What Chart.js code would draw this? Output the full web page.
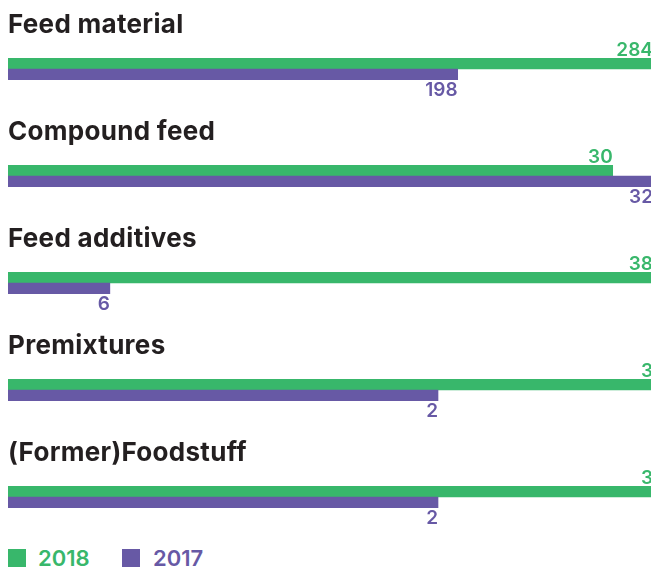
<!DOCTYPE html>
<html>
<head>
<meta charset="utf-8">
<script src="https://cdn.jsdelivr.net/npm/chart.js@4/dist/chart.umd.min.js"></script>
<style>
  html, body { margin: 0; padding: 0; background: #fff; width: 651px; height: 569px; overflow: hidden; }
  #wrap { position: relative; width: 653px; height: 569px; }
  .grp { position: absolute; left: 0; width: 653px; height: 107px; }
  .grp canvas { position: absolute; left: 0; top: 0; }
  .ttl { position: absolute; left: 8px; top: 10.5px; font: 700 26px Inter, sans-serif; line-height: 1; color: #231f20; white-space: nowrap; letter-spacing: 0.3px; }
  .leg { position: absolute; top: 547px; font: 600 22px Inter, sans-serif; line-height: 1; white-space: nowrap; }
  .sw { position: absolute; width: 18px; height: 18px; top: 549px; }
</style>
</head>
<body>
<div id="wrap"></div>
<script>
// ---- data ----
const categories = ['Feed material', 'Compound feed', 'Feed additives', 'Premixtures', '(Former)Foodstuff'];
const seriesNames = ['2018', '2017'];
const values2018 = [284, 30, 38, 3, 3];
const values2017 = [198, 32, 6, 2, 2];
const seriesColors = ['#38b76b', '#6759a5'];

const wrap = document.getElementById('wrap');

const valueLabels = {
  id: 'valueLabels',
  afterDatasetsDraw(chart) {
    const ctx = chart.ctx;
    const meta = chart.getDatasetMeta(0);
    const data = chart.data.datasets[0].data;
    ctx.save();
    ctx.font = '600 19px Inter, sans-serif';
    ctx.textAlign = 'right';
    ctx.textBaseline = 'alphabetic';
    meta.data.forEach((bar, i) => {
      const top = bar.y - bar.height / 2;
      const bottom = bar.y + bar.height / 2;
      ctx.fillStyle = seriesColors[i];
      if (i === 0) ctx.fillText(String(data[i]), bar.x, top - 2);
      else ctx.fillText(String(data[i]), bar.x, bottom + 16);
    });
    ctx.restore();
  }
};

categories.forEach((cat, g) => {
  const div = document.createElement('div');
  div.className = 'grp';
  div.style.top = (g * 107) + 'px';
  const t = document.createElement('div');
  t.className = 'ttl';
  t.textContent = cat;
  const cv = document.createElement('canvas');
  cv.width = 653; cv.height = 107;
  cv.style.width = '653px'; cv.style.height = '107px';
  div.appendChild(cv);
  div.appendChild(t);
  wrap.appendChild(div);

  const vals = [values2018[g], values2017[g]];
  new Chart(cv.getContext('2d'), {
    type: 'bar',
    data: {
      labels: seriesNames,
      datasets: [{
        data: vals,
        backgroundColor: seriesColors,
        borderWidth: 0,
        barPercentage: 1,
        categoryPercentage: 1
      }]
    },
    options: {
      indexAxis: 'y',
      responsive: false,
      animation: false,
      devicePixelRatio: 1,
      layout: { padding: { left: 8, right: 0, top: 58, bottom: 27 } },
      scales: {
        x: { display: false, min: 0, max: Math.max(...vals) },
        y: { display: false }
      },
      plugins: { legend: { display: false }, tooltip: { enabled: false }, title: { display: false } }
    },
    plugins: [valueLabels]
  });
});

// legend
const legX = [[8, 38], [122, 153]];
seriesNames.forEach((s, i) => {
  const sw = document.createElement('div');
  sw.className = 'sw';
  sw.style.left = legX[i][0] + 'px';
  sw.style.background = seriesColors[i];
  wrap.appendChild(sw);
  const tx = document.createElement('div');
  tx.className = 'leg';
  tx.style.left = legX[i][1] + 'px';
  tx.style.color = seriesColors[i];
  tx.textContent = s;
  wrap.appendChild(tx);
});
</script>
</body>
</html>
